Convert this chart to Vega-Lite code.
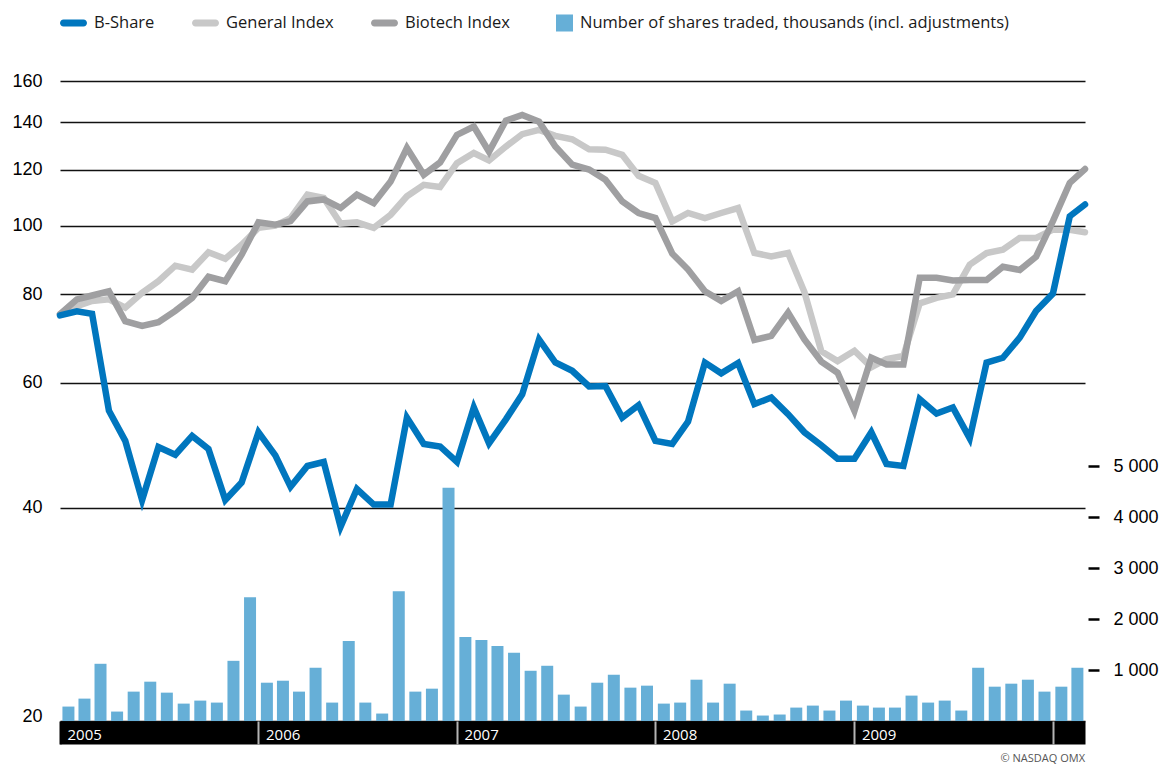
{
  "$schema": "https://vega.github.io/schema/vega-lite/v6.json",
  "width": 1162,
  "height": 764,
  "autosize": {"type": "fit", "contains": "padding"},
  "padding": {"left": 11, "right": 3, "top": 9, "bottom": 0},
  "background": "white",
  "config": {
    "view": {"stroke": null},
    "legend": {"orient": "top", "direction": "horizontal", "labelFont": "Open Sans", "labelFontSize": 16.5, "labelColor": "#1a1a1a", "labelLimit": 0, "symbolSize": 729, "symbolStrokeWidth": 0, "columnPadding": 36, "labelOffset": 7, "offset": 49, "padding": 0}
  },
  "title": {"text": "© NASDAQ OMX", "orient": "bottom", "anchor": "end", "frame": "group", "font": "Open Sans", "fontSize": 11, "fontWeight": "normal", "color": "#555555", "offset": 8},
  "datasets": {
    "idx": [
      {"date": "2005-01-01", "bshare": 74.7, "general": 75, "biotech": 75},
      {"date": "2005-02-01", "bshare": 75.7, "general": 77.0, "biotech": 78.7},
      {"date": "2005-03-01", "bshare": 75.1, "general": 78.3, "biotech": 79.7},
      {"date": "2005-04-01", "bshare": 54.8, "general": 78.7, "biotech": 80.8},
      {"date": "2005-05-01", "bshare": 49.7, "general": 76.6, "biotech": 73.3},
      {"date": "2005-06-01", "bshare": 41.0, "general": 80.4, "biotech": 72.2},
      {"date": "2005-07-01", "bshare": 48.7, "general": 83.5, "biotech": 73.1},
      {"date": "2005-08-01", "bshare": 47.5, "general": 87.8, "biotech": 75.8},
      {"date": "2005-09-01", "bshare": 50.5, "general": 86.7, "biotech": 79.1},
      {"date": "2005-10-01", "bshare": 48.4, "general": 91.7, "biotech": 84.7},
      {"date": "2005-11-01", "bshare": 41.0, "general": 89.8, "biotech": 83.5},
      {"date": "2005-12-01", "bshare": 43.4, "general": 94.0, "biotech": 91.0},
      {"date": "2006-01-01", "bshare": 51.1, "general": 99.3, "biotech": 101.1},
      {"date": "2006-02-01", "bshare": 47.4, "general": 100.0, "biotech": 100.3},
      {"date": "2006-03-01", "bshare": 42.8, "general": 102.5, "biotech": 101.5},
      {"date": "2006-04-01", "bshare": 45.8, "general": 110.6, "biotech": 108.2},
      {"date": "2006-05-01", "bshare": 46.4, "general": 109.4, "biotech": 108.9},
      {"date": "2006-06-01", "bshare": 37.6, "general": 100.7, "biotech": 105.9},
      {"date": "2006-07-01", "bshare": 42.5, "general": 101.1, "biotech": 110.6},
      {"date": "2006-08-01", "bshare": 40.4, "general": 99.3, "biotech": 107.6},
      {"date": "2006-09-01", "bshare": 40.4, "general": 103.6, "biotech": 115.4},
      {"date": "2006-10-01", "bshare": 53.6, "general": 110.0, "biotech": 128.7},
      {"date": "2006-11-01", "bshare": 49.2, "general": 114.2, "biotech": 118.0},
      {"date": "2006-12-01", "bshare": 48.8, "general": 113.4, "biotech": 122.8},
      {"date": "2007-01-01", "bshare": 46.4, "general": 122.5, "biotech": 134.3},
      {"date": "2007-02-01", "bshare": 55.4, "general": 126.6, "biotech": 138.0},
      {"date": "2007-03-01", "bshare": 49.3, "general": 123.6, "biotech": 127.2},
      {"date": "2007-04-01", "bshare": 53.3, "general": 129.3, "biotech": 140.7},
      {"date": "2007-05-01", "bshare": 57.8, "general": 134.6, "biotech": 143.3},
      {"date": "2007-06-01", "bshare": 69.1, "general": 136.5, "biotech": 140.2},
      {"date": "2007-07-01", "bshare": 64.1, "general": 133.9, "biotech": 129.3},
      {"date": "2007-08-01", "bshare": 62.4, "general": 132.4, "biotech": 121.9},
      {"date": "2007-09-01", "bshare": 59.3, "general": 128.2, "biotech": 120.0},
      {"date": "2007-10-01", "bshare": 59.4, "general": 128.0, "biotech": 116.1},
      {"date": "2007-11-01", "bshare": 53.6, "general": 125.9, "biotech": 108.2},
      {"date": "2007-12-01", "bshare": 55.8, "general": 117.6, "biotech": 104.2},
      {"date": "2008-01-01", "bshare": 49.7, "general": 114.9, "biotech": 102.5},
      {"date": "2008-02-01", "bshare": 49.2, "general": 101.4, "biotech": 91.3},
      {"date": "2008-03-01", "bshare": 52.9, "general": 104.2, "biotech": 86.7},
      {"date": "2008-04-01", "bshare": 64.1, "general": 102.5, "biotech": 80.8},
      {"date": "2008-05-01", "bshare": 61.9, "general": 104.2, "biotech": 78.3},
      {"date": "2008-06-01", "bshare": 64.0, "general": 105.9, "biotech": 80.8},
      {"date": "2008-07-01", "bshare": 56.0, "general": 91.5, "biotech": 69.0},
      {"date": "2008-08-01", "bshare": 57.2, "general": 90.5, "biotech": 69.9},
      {"date": "2008-09-01", "bshare": 54.2, "general": 91.5, "biotech": 75.4},
      {"date": "2008-10-01", "bshare": 51.1, "general": 80.6, "biotech": 69.1},
      {"date": "2008-11-01", "bshare": 49.0, "general": 66.5, "biotech": 64.3},
      {"date": "2008-12-01", "bshare": 46.9, "general": 64.4, "biotech": 62.0},
      {"date": "2009-01-01", "bshare": 46.9, "general": 66.6, "biotech": 54.8},
      {"date": "2009-02-01", "bshare": 51.1, "general": 63.1, "biotech": 65.1},
      {"date": "2009-03-01", "bshare": 46.1, "general": 64.8, "biotech": 63.7},
      {"date": "2009-04-01", "bshare": 45.8, "general": 65.5, "biotech": 63.7},
      {"date": "2009-05-01", "bshare": 56.9, "general": 77.7, "biotech": 84.4},
      {"date": "2009-06-01", "bshare": 54.3, "general": 79.1, "biotech": 84.4},
      {"date": "2009-07-01", "bshare": 55.4, "general": 80.0, "biotech": 83.7},
      {"date": "2009-08-01", "bshare": 50.1, "general": 88.1, "biotech": 83.8},
      {"date": "2009-09-01", "bshare": 64.1, "general": 91.5, "biotech": 83.8},
      {"date": "2009-10-01", "bshare": 65.1, "general": 92.5, "biotech": 87.5},
      {"date": "2009-11-01", "bshare": 69.5, "general": 96.1, "biotech": 86.6},
      {"date": "2009-12-01", "bshare": 75.8, "general": 96.1, "biotech": 90.4},
      {"date": "2010-01-01", "bshare": 80.2, "general": 98.7, "biotech": 101.5},
      {"date": "2010-02-01", "bshare": 103.1, "general": 98.7, "biotech": 114.9},
      {"date": "2010-03-01", "bshare": 107.1, "general": 97.9, "biotech": 120.2}
    ],
    "vol": [
      {"month": "2005-01-01", "volume": 283}, {"month": "2005-02-01", "volume": 439}, {"month": "2005-03-01", "volume": 1122},
      {"month": "2005-04-01", "volume": 185}, {"month": "2005-05-01", "volume": 576}, {"month": "2005-06-01", "volume": 771},
      {"month": "2005-07-01", "volume": 556}, {"month": "2005-08-01", "volume": 341}, {"month": "2005-09-01", "volume": 400},
      {"month": "2005-10-01", "volume": 361}, {"month": "2005-11-01", "volume": 1180}, {"month": "2005-12-01", "volume": 2429},
      {"month": "2006-01-01", "volume": 751}, {"month": "2006-02-01", "volume": 790}, {"month": "2006-03-01", "volume": 576},
      {"month": "2006-04-01", "volume": 1044}, {"month": "2006-05-01", "volume": 361}, {"month": "2006-06-01", "volume": 1571},
      {"month": "2006-07-01", "volume": 361}, {"month": "2006-08-01", "volume": 146}, {"month": "2006-09-01", "volume": 2546},
      {"month": "2006-10-01", "volume": 576}, {"month": "2006-11-01", "volume": 634}, {"month": "2006-12-01", "volume": 4576},
      {"month": "2007-01-01", "volume": 1649}, {"month": "2007-02-01", "volume": 1590}, {"month": "2007-03-01", "volume": 1473},
      {"month": "2007-04-01", "volume": 1337}, {"month": "2007-05-01", "volume": 985}, {"month": "2007-06-01", "volume": 1083},
      {"month": "2007-07-01", "volume": 517}, {"month": "2007-08-01", "volume": 283}, {"month": "2007-09-01", "volume": 751},
      {"month": "2007-10-01", "volume": 907}, {"month": "2007-11-01", "volume": 654}, {"month": "2007-12-01", "volume": 693},
      {"month": "2008-01-01", "volume": 341}, {"month": "2008-02-01", "volume": 361}, {"month": "2008-03-01", "volume": 810},
      {"month": "2008-04-01", "volume": 361}, {"month": "2008-05-01", "volume": 732}, {"month": "2008-06-01", "volume": 205},
      {"month": "2008-07-01", "volume": 107}, {"month": "2008-08-01", "volume": 127}, {"month": "2008-09-01", "volume": 263},
      {"month": "2008-10-01", "volume": 302}, {"month": "2008-11-01", "volume": 205}, {"month": "2008-12-01", "volume": 400},
      {"month": "2009-01-01", "volume": 302}, {"month": "2009-02-01", "volume": 263}, {"month": "2009-03-01", "volume": 263},
      {"month": "2009-04-01", "volume": 498}, {"month": "2009-05-01", "volume": 361}, {"month": "2009-06-01", "volume": 400},
      {"month": "2009-07-01", "volume": 205}, {"month": "2009-08-01", "volume": 1044}, {"month": "2009-09-01", "volume": 673},
      {"month": "2009-10-01", "volume": 732}, {"month": "2009-11-01", "volume": 810}, {"month": "2009-12-01", "volume": 576},
      {"month": "2010-01-01", "volume": 673}, {"month": "2010-02-01", "volume": 1044}
    ]
  },
  "layer": [
    {
      "data": {"name": "vol"},
      "mark": {"type": "bar", "width": 12},
      "encoding": {
        "x": {
          "field": "month", "type": "temporal", "timeUnit": "utcyearmonth", "bandPosition": 0.5,
          "scale": {"type": "utc", "nice": false, "domain": [{"year": 2005, "month": 1, "date": 1, "utc": true}, {"year": 2010, "month": 3, "date": 1, "utc": true}]},
          "axis": {"orient": "bottom", "domain": true, "domainColor": "#000000", "domainWidth": 23, "domainCap": "butt", "offset": 11.5, "ticks": false, "labels": false, "grid": false, "title": null}
        },
        "y": {
          "field": "volume", "type": "quantitative",
          "scale": {"domain": [0, 12550], "nice": false, "zero": true},
          "axis": {"orient": "right", "values": [1000, 2000, 3000, 4000, 5000], "domain": false, "grid": false, "ticks": true, "tickSize": 11, "tickWidth": 2.5, "tickColor": "#000000", "offset": 3, "labelPadding": 14, "labelFont": "Liberation Sans", "labelFontSize": 18, "labelColor": "#000000", "labelExpr": "replace(format(datum.value, ','), ',', ' ')", "title": null}
        },
        "color": {
          "datum": "Number of shares traded, thousands (incl. adjustments)", "type": "nominal",
          "scale": {
            "domain": ["B-Share", "General Index", "Biotech Index", "Number of shares traded, thousands (incl. adjustments)"],
            "range": ["#0076BE", "#C8C8C8", "#9F9FA1", "#66AFD7"]
          },
          "legend": {
            "title": null,
            "encode": {
              "symbols": {
                "update": {
                  "shape": {"signal": "datum.value === 'Number of shares traded, thousands (incl. adjustments)' ? 'M-0.26,-0.63H1V0.63H-0.26Z' : 'M-0.74,-0.26H0.74A0.26,0.26 0 0 1 0.74,0.26H-0.74A0.26,0.26 0 0 1 -0.74,-0.26Z'"},
                  "size": {"value": 729},
                  "strokeWidth": {"value": 0},
                  "stroke": {"value": "transparent"},
                  "fill": {"scale": "color", "field": "value"},
                  "opacity": {"value": 1},
                  "fillOpacity": {"value": 1}
                }
              }
            }
          }
        }
      }
    },
    {
      "data": {"name": "idx"},
      "encoding": {
        "x": {
          "field": "date", "type": "temporal",
          "scale": {"type": "utc", "nice": false, "domain": [{"year": 2005, "month": 1, "date": 1, "utc": true}, {"year": 2010, "month": 3, "date": 1, "utc": true}]},
          "axis": {
            "orient": "bottom", "domain": false, "grid": false, "title": null, "offset": 0,
            "values": [
              {"year": 2005, "month": 1, "date": 1, "utc": true}, {"year": 2006, "month": 1, "date": 1, "utc": true},
              {"year": 2007, "month": 1, "date": 1, "utc": true}, {"year": 2008, "month": 1, "date": 1, "utc": true},
              {"year": 2009, "month": 1, "date": 1, "utc": true}, {"year": 2010, "month": 1, "date": 1, "utc": true}
            ],
            "ticks": true, "tickSize": 23, "tickWidth": 2,
            "tickColor": {"condition": {"test": "utcyear(datum.value) == 2005", "value": "#000000"}, "value": "#B4B4B4"},
            "labelExpr": "utcyear(datum.value) == 2010 ? '' : utcFormat(datum.value, '%Y')",
            "labelColor": "#FFFFFF", "labelFont": "Open Sans", "labelFontSize": 15,
            "labelAlign": "left", "labelBaseline": "alphabetic", "labelOffset": 7, "labelPadding": -4.8,
            "labelFlush": false, "labelOverlap": false, "labelBound": false
          }
        }
      },
      "layer": [
        {
          "mark": {"type": "line", "strokeWidth": 6.5, "strokeCap": "round"},
          "encoding": {
            "y": {"field": "general", "type": "quantitative",
              "scale": {"type": "log", "domain": [20, 160], "nice": false},
              "axis": {"orient": "left", "values": [20, 40, 60, 80, 100, 120, 140, 160], "domain": false, "ticks": false, "tickSize": 0, "grid": true, "gridColor": "#111111", "gridWidth": 1.6, "labelPadding": 18, "labelFont": "Liberation Sans", "labelFontSize": 18, "labelColor": "#000000", "labelBaseline": {"condition": {"test": "datum.value == 20", "value": "alphabetic"}, "value": "middle"}, "title": null}
            },
            "color": {"datum": "General Index", "type": "nominal", "legend": {"title": null}}
          }
        },
        {
          "mark": {"type": "line", "strokeWidth": 6.5, "strokeCap": "round"},
          "encoding": {
            "y": {"field": "biotech", "type": "quantitative"},
            "color": {"datum": "Biotech Index", "type": "nominal", "legend": {"title": null}}
          }
        },
        {
          "mark": {"type": "line", "strokeWidth": 6.5, "strokeCap": "round"},
          "encoding": {
            "y": {"field": "bshare", "type": "quantitative"},
            "color": {"datum": "B-Share", "type": "nominal", "legend": {"title": null}}
          }
        }
      ]
    }
  ],
  "resolve": {"scale": {"y": "independent"}, "axis": {"x": "independent"}}
}
